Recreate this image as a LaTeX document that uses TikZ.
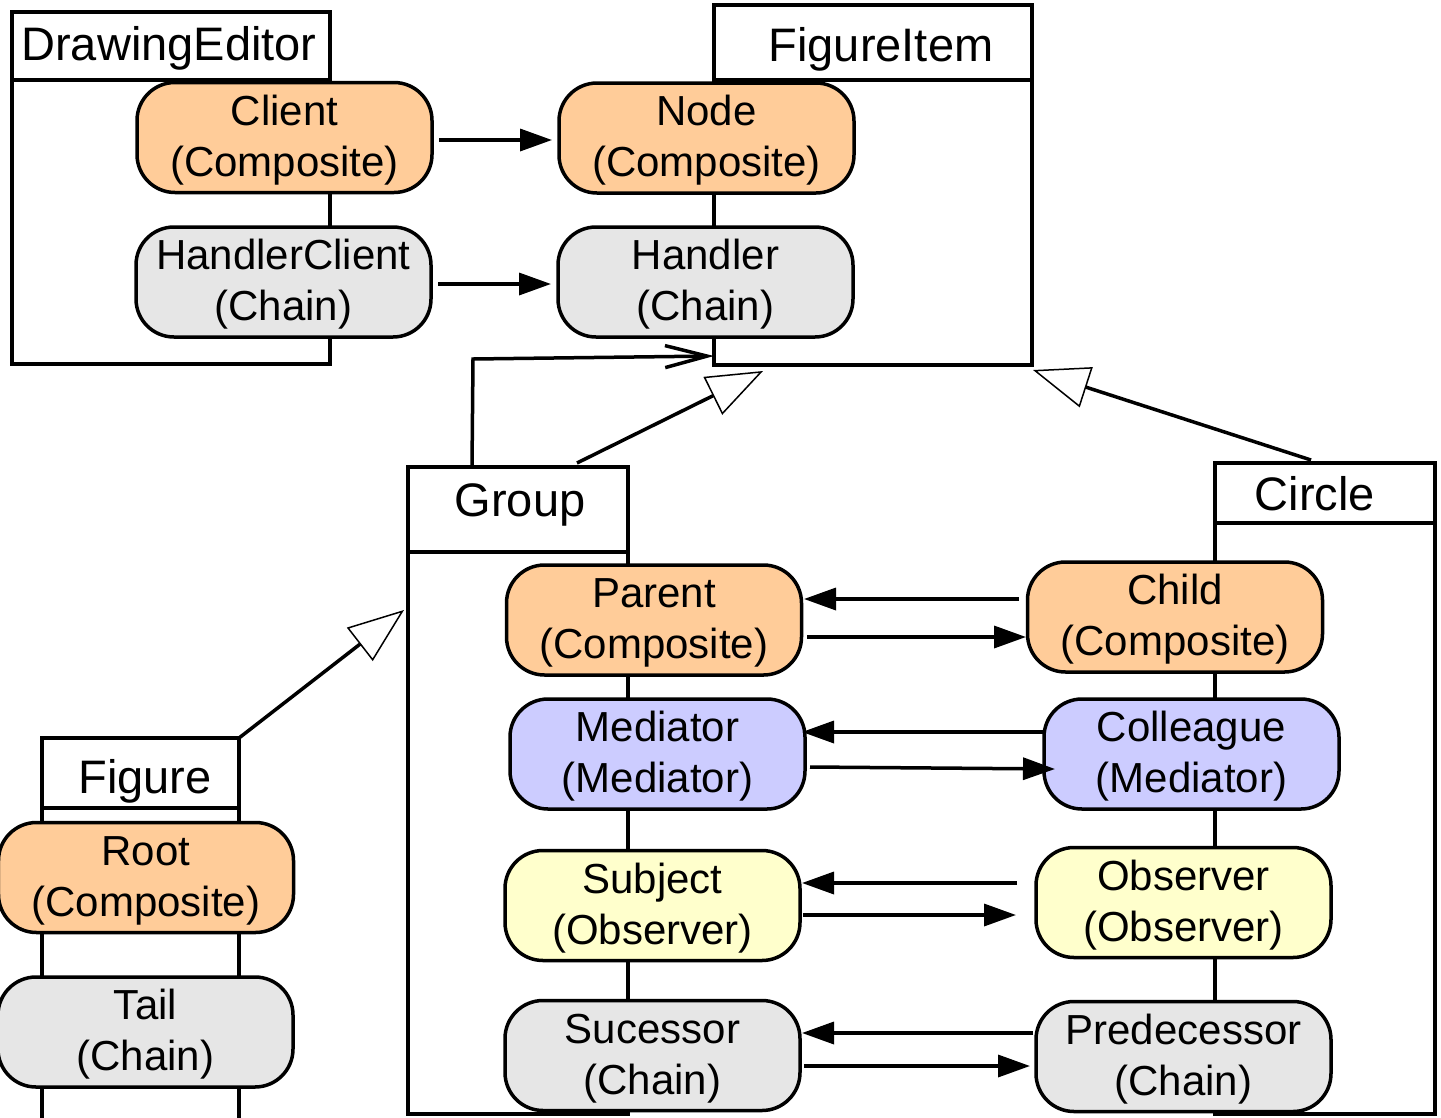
\documentclass[tikz,border=0pt]{standalone}
\usepackage{fontspec}
\setmainfont{Liberation Sans}
\usetikzlibrary{arrows.meta}
\definecolor{peach}{HTML}{FFCC99}
\definecolor{chaingray}{HTML}{E6E6E6}
\definecolor{lavender}{HTML}{CCCCFF}
\definecolor{paleyellow}{HTML}{FFFFCC}

\begin{document}
\begin{tikzpicture}[x=1pt,y=-1pt,
  classpart/.style={draw, line width=3.5pt, inner sep=0pt, outer sep=0pt},
  classname/.style={anchor=base, inner sep=0pt, font=\fontsize{47}{56}\selectfont},
  role/.style={draw, line width=3.5pt, rounded corners=38pt, minimum width=295pt,
    minimum height=110pt, inner sep=0pt, outer sep=0pt, align=center,
    font=\fontsize{42}{51}\selectfont, text height=87pt, text depth=10pt},
  composite/.style={role, fill=peach},
  chain/.style={role, fill=chaingray},
  mediator/.style={role, fill=lavender},
  observer/.style={role, fill=paleyellow},
  call/.style={line width=3.5pt, -{Triangle[length=32pt,width=22pt]}},
  inherit/.style={line width=3.5pt, -{Triangle[open,length=56pt,width=42pt,line width=1.5pt]}},
  uses/.style={line width=3.5pt, -{Straight Barb[length=42pt,width=22pt]}}
]
\useasboundingbox (0,0) rectangle (1441,1117);
\clip (0,0) rectangle (1441,1117);

% class frames
\node[classpart, minimum width=318pt, minimum height=284pt] (de) at (171,222) {};
\node[classpart, minimum width=318pt, minimum height=68pt] (de-head) at (171,46) {};
\node[classname] (de-name) at (169,60) {DrawingEditor};

\node[classpart, minimum width=318pt, minimum height=285pt] (fi) at (873,222.5) {};
\node[classpart, minimum width=318pt, minimum height=75pt] (fi-head) at (873,42.5) {};
\node[classname] (fi-name) at (881,61) {FigureItem};

\node[classpart, minimum width=220pt, minimum height=562pt] (group) at (518,833) {};
\node[classpart, minimum width=220pt, minimum height=85pt] (group-head) at (518,509.5) {};
\node[classname] (group-name) at (520,516) {Group};

\node[classpart, minimum width=220pt, minimum height=591pt] (circle) at (1325,818.5) {};
\node[classpart, minimum width=220pt, minimum height=60pt] (circle-head) at (1325,493) {};
\node[classname] (circle-name) at (1315,510) {Circle};

\node[classpart, minimum width=197pt, minimum height=332pt] (figure) at (140.5,974) {};
\node[classpart, minimum width=197pt, minimum height=70pt] (figure-head) at (140.5,773) {};
\node[classname] (figure-name) at (145,793) {Figure};

% pattern roles
\node[composite] (client) at (284.5,137.5) {Client\\(Composite)};
\node[chain] (hclient) at (283.5,282) {HandlerClient\\(Chain)};
\node[composite] (nodeitem) at (706.5,138) {Node\\(Composite)};
\node[chain] (handler) at (705.5,282) {Handler\\(Chain)};

\node[composite] (parent) at (654,620) {Parent\\(Composite)};
\node[mediator] (mediatorrole) at (657.5,754) {Mediator\\(Mediator)};
\node[observer] (subject) at (652.5,905.5) {Subject\\(Observer)};
\node[chain] (successor) at (652.5,1055.5) {Sucessor\\(Chain)};

\node[composite] (child) at (1175,617) {Child\\(Composite)};
\node[mediator] (colleague) at (1191.5,754) {Colleague\\(Mediator)};
\node[observer] (observerrole) at (1183.5,902.5) {Observer\\(Observer)};
\node[chain] (predecessor) at (1183.5,1056.5) {Predecessor\\(Chain)};

\node[composite] (root) at (146,877.5) {Root\\(Composite)};
\node[chain] (tail) at (145.5,1032) {Tail\\(Chain)};

% arrow targets that stop short of a frame
\coordinate (fi-gen-group) at (763,371);
\coordinate (fi-gen-circle) at (1033,370);
\coordinate (group-gen-figure) at (404,610);
\coordinate (fi-use) at (714,356);

% associations
\draw[call] ([xshift=7pt,yshift=-2.5pt]client.east) -- ([xshift=-7pt,yshift=-2pt]nodeitem.west);
\draw[call] ([xshift=7pt,yshift=-2pt]hclient.east) -- ([xshift=-7pt,yshift=-2pt]handler.west);

\draw[call] ([xshift=-8.5pt,yshift=18pt]child.west) -- ([xshift=2.5pt,yshift=21pt]parent.east);
\draw[call] ([xshift=5.5pt,yshift=-17pt]parent.east) -- ([xshift=-1.5pt,yshift=-20pt]child.west);
\draw[call] ([xshift=-1pt,yshift=22pt]colleague.west) -- ([xshift=-3pt,yshift=22pt]mediatorrole.east);
\draw[call] ([xshift=5pt,yshift=-13pt]mediatorrole.east) -- ([xshift=11pt,yshift=-15pt]colleague.west);
\draw[call] ([xshift=-19pt,yshift=19.5pt]observerrole.west) -- ([xshift=2pt,yshift=22.5pt]subject.east);
\draw[call] ([xshift=3pt,yshift=-9.5pt]subject.east) -- ([xshift=-20pt,yshift=-12.5pt]observerrole.west);
\draw[call] ([xshift=-3pt,yshift=23.5pt]predecessor.west) -- ([xshift=2pt,yshift=22.5pt]successor.east);
\draw[call] ([xshift=4pt,yshift=-10.5pt]successor.east) -- ([xshift=-6pt,yshift=-9.5pt]predecessor.west);

% generalisations
\draw[inherit] ([xshift=59pt,yshift=4pt]group-head.north) -- (fi-gen-group);
\draw[inherit] ([xshift=-14pt,yshift=3pt]circle-head.north) -- (fi-gen-circle);
\draw[inherit] (figure-head.north east) -- (group-gen-figure);

% dependency
\draw[uses] ([xshift=-46pt]group-head.north) -- ++(1,-108) -- (fi-use);
\end{tikzpicture}
\end{document}
